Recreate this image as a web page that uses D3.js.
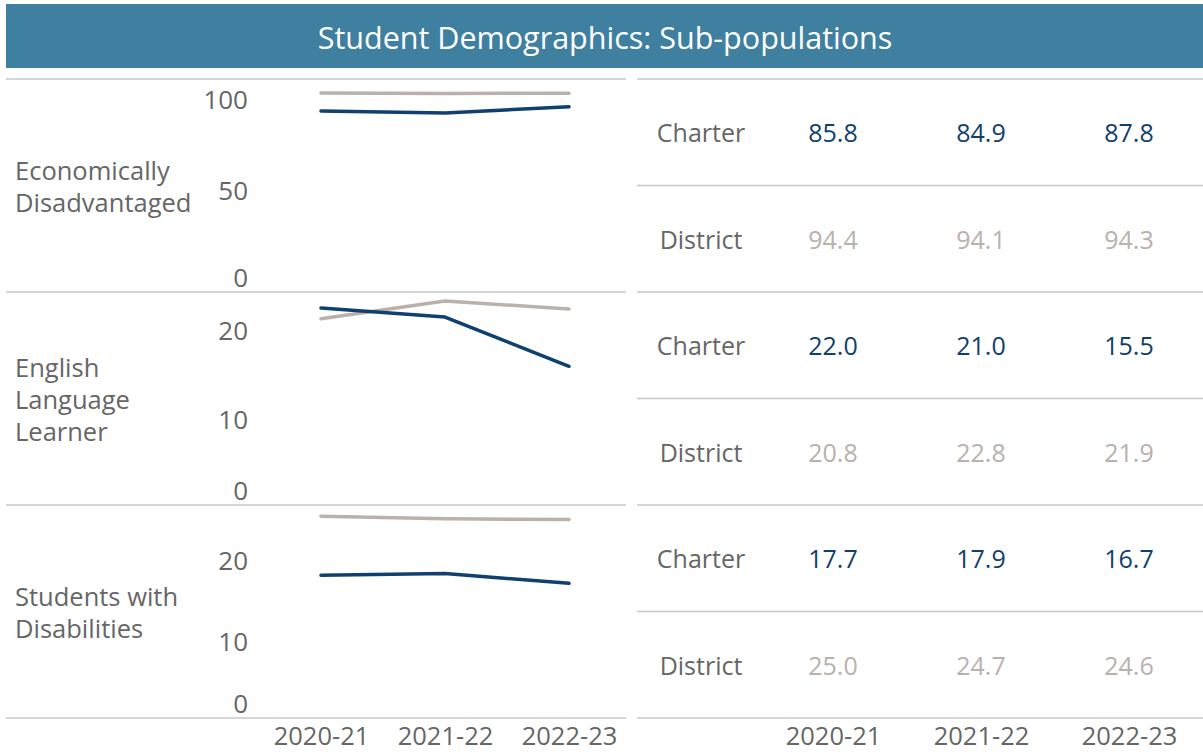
<!DOCTYPE html>
<html>
<head>
<meta charset="utf-8">
<script src="https://cdn.jsdelivr.net/npm/d3@7"></script>
<style>
  body { margin: 0; background: #fff; }
  svg { display: block; font-family: 'Open Sans', sans-serif; }
</style>
</head>
<body>
<div class="canvas"></div>
<script>
// data
const years = ['2020-21', '2021-22', '2022-23'];
const groupLabels = [
    ['Economically', 'Disadvantaged'],
    ['English', 'Language', 'Learner'],
    ['Students with', 'Disabilities']
];
const charter = [
    [85.8, 84.9, 87.8],
    [22.0, 21.0, 15.5],
    [17.7, 17.9, 16.7]
];
const district = [
    [94.4, 94.1, 94.3],
    [20.8, 22.8, 21.9],
    [25.0, 24.7, 24.6]
];
const yTicks = [[0, 50, 100], [0, 10, 20], [0, 10, 20]];
const yMax = [101, 23.8, 26.4];
const seriesNames = ['Charter', 'District'];

const width = 1203, height = 753;
const top0 = 79, paneH = 213;
const charterColor = '#0f406f';
const districtColor = '#bab0ac';
const textColor = '#666666';
const ruleColor = '#c8c8c8';

const svg = d3.select('.canvas')
    .append('svg')
    .attr('width', width)
    .attr('height', height)
;

// title bar
svg.append('rect')
    .attr('x', 6).attr('y', 4)
    .attr('width', width - 6).attr('height', 64)
    .attr('fill', '#3f7f9f')
;
svg.append('text')
    .attr('x', 605).attr('y', 37)
    .attr('text-anchor', 'middle')
    .attr('dominant-baseline', 'central')
    .attr('fill', '#fff')
    .attr('font-size', 30.5)
    .text('Student Demographics: Sub-populations')
;

// scales
const x = d3.scalePoint().domain(years).range([321, 569]);
const xt = d3.scalePoint().domain(years).range([833, 1129]);

const line = d3.line();

groupLabels.forEach((labels, i) => {
    const top = top0 + i * paneH;
    const bottom = top + paneH;
    const y = d3.scaleLinear().domain([0, yMax[i]]).range([bottom, top]);

    // row label
    const lab = svg.append('text')
        .attr('x', 15)
        .attr('fill', textColor)
        .attr('font-size', 25.5)
    ;
    labels.forEach((t, k) => {
        lab.append('tspan')
            .attr('x', 15)
            .attr('y', (top + bottom) / 2 + (k - (labels.length - 1) / 2) * 32)
            .attr('dominant-baseline', 'central')
            .text(t);
    });

    // y axis
    const yAxisGroup = svg.append('g')
        .attr('transform', 'translate(248, 0)')
        .call(d3.axisLeft(y).tickValues(yTicks[i]).tickSize(0).tickPadding(0))
    ;
    yAxisGroup.select('.domain').remove();
    yAxisGroup.selectAll('text')
        .attr('font-family', "'Open Sans', sans-serif")
        .attr('font-size', 26)
        .attr('fill', textColor)
        .attr('dy', null)
        .attr('dominant-baseline', 'central')
        .attr('y', d => {
            const py = Math.min(Math.max(y(d) + 3, top + 19), bottom - 16);
            return py - y(d);
        })
    ;

    // lines
    [district[i], charter[i]].forEach((vals, s) => {
        svg.append('path')
            .attr('fill', 'none')
            .attr('stroke', s === 0 ? districtColor : charterColor)
            .attr('stroke-width', 3.5)
            .attr('stroke-linecap', 'round')
            .attr('stroke-linejoin', 'round')
            .attr('d', line(vals.map((v, j) => [x(years[j]), y(v)])))
        ;
    });

    // table
    [charter[i], district[i]].forEach((vals, s) => {
        const rTop = top + s * paneH / 2;
        const cy = rTop + paneH / 4;
        svg.append('text')
            .attr('x', 701).attr('y', cy)
            .attr('text-anchor', 'middle')
            .attr('dominant-baseline', 'central')
            .attr('fill', textColor)
            .attr('font-size', 25)
            .text(seriesNames[s])
        ;
        svg.selectAll(null)
            .data(vals)
            .enter()
            .append('text')
                .attr('x', (d, j) => xt(years[j]))
                .attr('y', cy)
                .attr('text-anchor', 'middle')
                .attr('dominant-baseline', 'central')
                .attr('fill', s === 0 ? charterColor : districtColor)
                .attr('font-size', 25)
                .text(d => d3.format('.1f')(d))
        ;
        svg.append('line')
            .attr('x1', 637).attr('x2', width)
            .attr('y1', rTop + paneH / 2).attr('y2', rTop + paneH / 2)
            .attr('stroke', ruleColor).attr('stroke-width', 1.5)
        ;
    });

    // pane separator (left)
    svg.append('line')
        .attr('x1', 6).attr('x2', 626)
        .attr('y1', bottom).attr('y2', bottom)
        .attr('stroke', ruleColor).attr('stroke-width', 1.5)
    ;
});

// top rules
svg.append('line')
    .attr('x1', 6).attr('x2', 626).attr('y1', top0).attr('y2', top0)
    .attr('stroke', ruleColor).attr('stroke-width', 1.5);
svg.append('line')
    .attr('x1', 637).attr('x2', width).attr('y1', top0).attr('y2', top0)
    .attr('stroke', ruleColor).attr('stroke-width', 1.5);

// x axes
const bottomY = top0 + 3 * paneH;
[x, xt].forEach(scale => {
    const g = svg.append('g')
        .attr('transform', `translate(0, ${bottomY})`)
        .call(d3.axisBottom(scale).tickSize(0).tickPadding(0));
    g.select('.domain').remove();
    g.selectAll('text')
        .attr('font-family', "'Open Sans', sans-serif")
        .attr('font-size', 25.5)
        .attr('fill', textColor)
        .attr('dy', null)
        .attr('dominant-baseline', 'central')
        .attr('y', 17);
});
</script>
</body>
</html>
